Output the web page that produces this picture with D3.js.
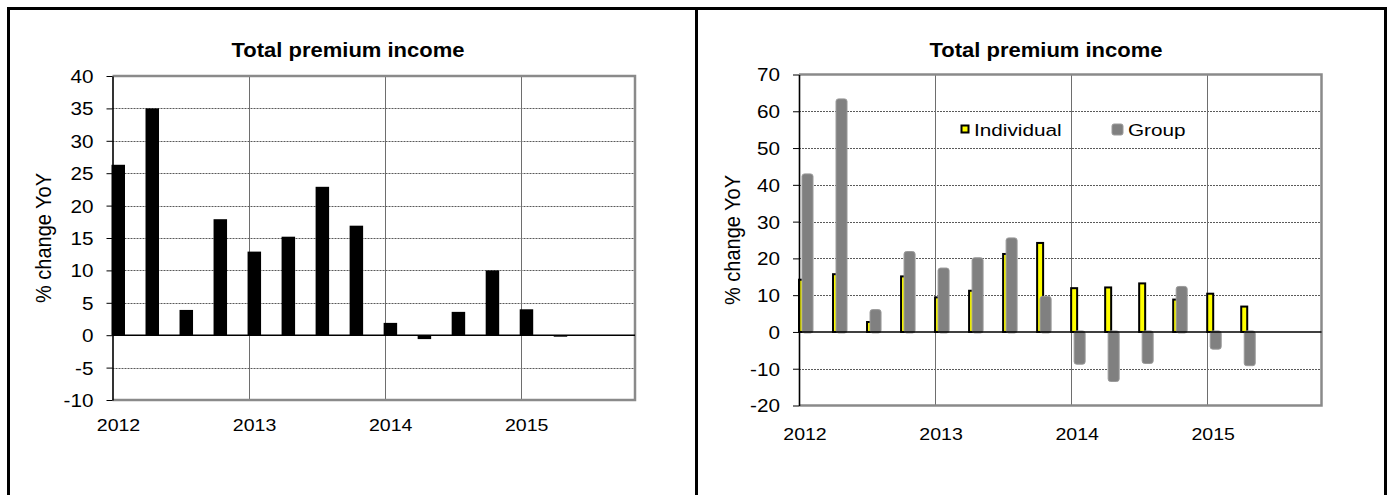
<!DOCTYPE html>
<html><head><meta charset="utf-8">
<script src="https://cdn.jsdelivr.net/npm/d3@7"></script>
<style>
html,body{margin:0;padding:0;background:#fff;}
svg{display:block;font-family:"Liberation Sans",Arial,sans-serif;}
</style></head><body>
<svg id="c" width="1394" height="495"></svg>
<script>
// Quarterly year-on-year change in premium income, %
const quarters = ["2012Q1","2012Q2","2012Q3","2012Q4","2013Q1","2013Q2","2013Q3","2013Q4",
                  "2014Q1","2014Q2","2014Q3","2014Q4","2015Q1","2015Q2"];
const totalPremium = [26.3, 35.0, 3.9, 17.9, 12.9, 15.2, 22.9, 16.9, 1.9, -0.6, 3.6, 10.0, 4.0, -0.2];
const individual   = [14.2, 15.7, 2.7, 15.1, 9.4, 11.2, 21.2, 24.2, 11.9, 12.1, 13.2, 8.8, 10.4, 6.9];
const group        = [42.7, 63.1, 5.8, 21.6, 17.1, 19.9, 25.3, 9.4, -8.5, -13.2, -8.3, 12.1, -4.4, -8.9];
const yearTicks  = [2012, 2013, 2014, 2015];
const leftTicks  = [-10, -5, 0, 5, 10, 15, 20, 25, 30, 35, 40];
const rightTicks = [-20, -10, 0, 10, 20, 30, 40, 50, 60, 70];
const chartTitle = "Total premium income";
const yTitle = "% change YoY";
const seriesNames = ["Individual", "Group"];

const svg = d3.select("#c");
const SX = 1.15;           // horizontal glyph stretch used for labels
const FONT = "Liberation Sans, Arial, sans-serif";

function qpos(q) { const p = q.split("Q"); return +p[0] + (+p[1] - 1) / 4; }

function stretchedText(g, x, y, txt, opts) {
  const sx = opts.sx || SX;
  return g.append("text")
    .attr("transform", `translate(${x},${y}) scale(${sx},1)` + (opts.rotate ? ` rotate(${opts.rotate})` : ""))
    .attr("text-anchor", opts.anchor || "middle")
    .attr("font-size", opts.size)
    .attr("font-weight", opts.weight || "normal")
    .attr("fill", "#000")
    .text(txt);
}

function panel(box, yDomain, ticks) {
  const x = d3.scaleLinear().domain([2012, 2015.84]).range([box.x0, box.x1]);
  const y = d3.scaleLinear().domain(yDomain).range([box.y1, box.y0]);
  const g = svg.append("g");

  // dotted horizontal gridlines
  g.selectAll("line.hg").data(ticks.filter(t => t !== yDomain[0] && t !== yDomain[1] && t !== 0))
    .join("line").attr("class", "hg")
    .attr("x1", box.x0).attr("x2", box.x1)
    .attr("y1", d => Math.round(y(d)) + 0.5).attr("y2", d => Math.round(y(d)) + 0.5)
    .attr("stroke", "#5a5a5a").attr("stroke-width", 1).attr("stroke-dasharray", "2,1");

  // solid vertical lines at each new year
  g.selectAll("line.vg").data(yearTicks.slice(1))
    .join("line").attr("class", "vg")
    .attr("x1", d => Math.round(x(d)) + 0.5).attr("x2", d => Math.round(x(d)) + 0.5)
    .attr("y1", box.y0).attr("y2", box.y1)
    .attr("stroke", "#6e6e6e").attr("stroke-width", 1);

  // plot frame
  g.append("path")
    .attr("d", `M${box.x0},${box.y0}H${box.x1}V${box.y1}H${box.x0}`)
    .attr("fill", "none").attr("stroke", "#8a8a8a").attr("stroke-width", 2.5);

  return { x, y, g };
}

function finishPanel(p, box, ticks, labelY, yTitleX, titleX) {
  const { x, y, g } = p;
  // zero line
  g.append("line")
    .attr("x1", box.x0).attr("x2", box.x1)
    .attr("y1", y(0)).attr("y2", y(0))
    .attr("stroke", "#000").attr("stroke-width", 1.5);

  // value axis
  const ax = g.append("g").attr("transform", `translate(${box.x0},0)`)
    .call(d3.axisLeft(y).tickValues(ticks).tickSize(6).tickSizeOuter(0).tickPadding(0)
      .tickFormat(d => String(d)));
  ax.select(".domain").attr("stroke", "#000").attr("stroke-width", 1.6);
  ax.selectAll(".tick line").attr("stroke", "#000").attr("stroke-width", 1);
  ax.selectAll(".tick text")
    .attr("x", -19 / SX).attr("dy", "0.36em")
    .attr("transform", `scale(${SX},1)`)
    .attr("font-family", FONT).attr("font-size", 18).attr("fill", "#000");

  // year labels
  yearTicks.forEach(yr => {
    stretchedText(g, x(yr) + 6, labelY, String(yr), { size: 17 });
  });

  // axis title
  stretchedText(g, yTitleX, (box.y0 + box.y1) / 2, yTitle, { size: 20, rotate: -90, sx: 1.1 });

  // chart title
  stretchedText(g, titleX, 57, chartTitle, { size: 20, weight: "bold", sx: 1.1 });
}

// ---------- left: total premium income ----------
const boxL = { x0: 112.5, x1: 635, y0: 76, y1: 400 };
const L = panel(boxL, [-10, 40], leftTicks);
L.g.selectAll("rect.tot").data(quarters.map((q, i) => ({ q, v: totalPremium[i] })))
  .join("rect").attr("class", "tot")
  .attr("x", d => L.x(qpos(d.q)) - 1)
  .attr("width", 13.5)
  .attr("y", d => L.y(Math.max(0, d.v)))
  .attr("height", d => Math.max(1.5, Math.abs(L.y(d.v) - L.y(0))))
  .attr("fill", "#000");
finishPanel(L, boxL, leftTicks, 431, 51, 348);

// ---------- right: individual vs group ----------
const boxR = { x0: 799, x1: 1321.5, y0: 74.5, y1: 405.5 };
const R = panel(boxR, [-20, 70], rightTicks);
R.g.selectAll("rect.ind").data(quarters.map((q, i) => ({ q, v: individual[i] })))
  .join("rect").attr("class", "ind")
  .attr("x", d => Math.max(boxR.x0, R.x(qpos(d.q))))
  .attr("width", d => 6 - (Math.max(boxR.x0, R.x(qpos(d.q))) - R.x(qpos(d.q))))
  .attr("y", d => R.y(Math.max(0, d.v)))
  .attr("height", d => Math.abs(R.y(d.v) - R.y(0)))
  .attr("fill", "#ffff00").attr("stroke", "#000").attr("stroke-width", 2);
R.g.selectAll("rect.grp").data(quarters.map((q, i) => ({ q, v: group[i] })))
  .join("rect").attr("class", "grp")
  .attr("x", d => R.x(qpos(d.q)) + 3)
  .attr("width", 11)
  .attr("y", d => R.y(Math.max(0, d.v)) - 1)
  .attr("height", d => Math.abs(R.y(d.v) - R.y(0)) + 2)
  .attr("rx", 2.5)
  .attr("fill", "#808080").attr("stroke", "#9a9a9a").attr("stroke-width", 1);
finishPanel(R, boxR, rightTicks, 440, 740, 1046);

// legend
const lg = svg.append("g");
lg.append("rect").attr("x", 961.5).attr("y", 125.5).attr("width", 7).attr("height", 7)
  .attr("fill", "#ffff00").attr("stroke", "#000").attr("stroke-width", 2);
stretchedText(lg, 974, 135.5, seriesNames[0], { size: 17, anchor: "start", sx: 1.22 });
lg.append("rect").attr("x", 1112).attr("y", 124).attr("width", 11).attr("height", 11).attr("rx", 2)
  .attr("fill", "#808080").attr("stroke", "#9a9a9a").attr("stroke-width", 1);
stretchedText(lg, 1128, 135.5, seriesNames[1], { size: 17, anchor: "start", sx: 1.22 });

// outer frame and divider
const frame = svg.append("g").attr("stroke", "#000").attr("stroke-width", 3).attr("fill", "none");
frame.append("path").attr("d", "M8.5,500V8.5H1385.5V500");
frame.append("line").attr("x1", 696.5).attr("x2", 696.5).attr("y1", 8.5).attr("y2", 500);
</script>
</body></html>
